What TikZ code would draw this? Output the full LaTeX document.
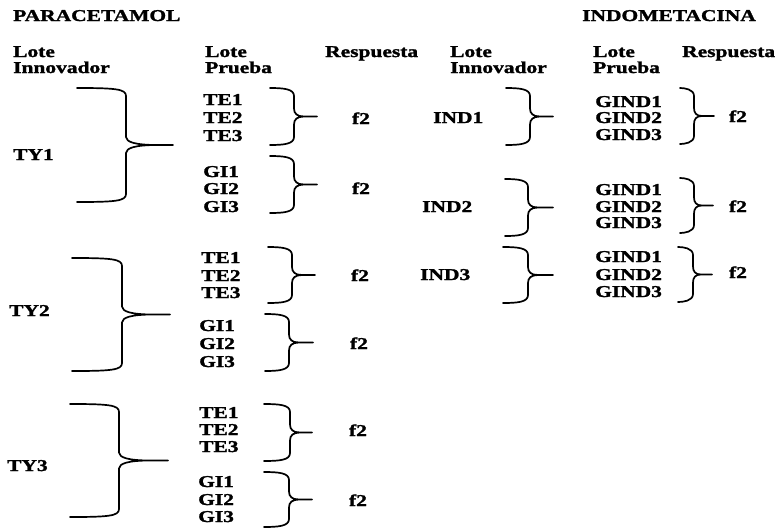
\documentclass[tikz,border=0pt]{standalone}
\usepackage{fontspec}
\setmainfont{Liberation Serif}[FakeStretch=1.3, BoldFeatures={FakeBold=1.6}]
\newcommand{\Brc}[6]{%
  \draw[bracestyle] (#1,#4) .. controls ({#2-10},{#4}) and (#2,{#4+1}) .. (#2,{#4+8})
    -- (#2,{(#4+#5)/2-8}) .. controls (#2,{(#4+#5)/2-3}) and ({#2+0.3*#6},{(#4+#5)/2}) .. ({#2+#6},{(#4+#5)/2})
    -- (#3,{(#4+#5)/2})
    ({#2+#6},{(#4+#5)/2}) .. controls ({#2+0.3*#6},{(#4+#5)/2}) and (#2,{(#4+#5)/2+3}) .. (#2,{(#4+#5)/2+8})
    -- (#2,{#5-8}) .. controls (#2,{#5-1}) and ({#2-10},{#5}) .. (#1,#5);}
\tikzset{
  bracestyle/.style={line width=1.7pt, line cap=round, line join=round},
  lbl/.style={font=\bfseries\fontsize{16.5}{18}\selectfont, inner sep=0pt, anchor=base west},
  resp/.style={font=\bfseries\fontsize{16.5}{18}\selectfont, inner sep=0pt, anchor=base},
}
\begin{document}
\begin{tikzpicture}[x=1pt,y=-1pt]
\useasboundingbox[fill=white] (0,0) rectangle (777,528);
% headers
\node[lbl] (hpar) at (13,21) {PARACETAMOL};
\node[lbl] (hind) at (582,21) {INDOMETACINA};
\node[lbl] (pl1) at (13,57) {Lote};
\node[lbl] (pl2) at (13,73) {Innovador};
\node[lbl] (pp1) at (205,57) {Lote};
\node[lbl] (pp2) at (205,73) {Prueba};
\node[lbl] (pr) at (325,57) {Respuesta};
\node[lbl] (il1) at (450,57) {Lote};
\node[lbl] (il2) at (450,73) {Innovador};
\node[lbl] (ip1) at (593,57) {Lote};
\node[lbl] (ip2) at (593,73) {Prueba};
\node[lbl] (ir) at (682,57) {Respuesta};
% paracetamol innovator lots
\node[lbl] (ty1) at (13,160) {TY1};
\node[lbl] (ty2) at (9,316) {TY2};
\node[lbl] (ty3) at (7,471) {TY3};
% test lots
\node[lbl] (a1) at (203,105) {TE1};
\node[lbl] (a2) at (203,123) {TE2};
\node[lbl] (a3) at (203,141) {TE3};
\node[lbl] (b1) at (203,177) {GI1};
\node[lbl] (b2) at (203,194) {GI2};
\node[lbl] (b3) at (203,212) {GI3};
\node[lbl] (c1) at (201,263) {TE1};
\node[lbl] (c2) at (201,281) {TE2};
\node[lbl] (c3) at (201,298) {TE3};
\node[lbl] (d1) at (199,331) {GI1};
\node[lbl] (d2) at (199,349) {GI2};
\node[lbl] (d3) at (199,367) {GI3};
\node[lbl] (e1) at (199,418) {TE1};
\node[lbl] (e2) at (199,435) {TE2};
\node[lbl] (e3) at (199,452) {TE3};
\node[lbl] (g1) at (198,487) {GI1};
\node[lbl] (g2) at (198,505) {GI2};
\node[lbl] (g3) at (198,522) {GI3};
% responses paracetamol
\node[resp] (fa) at (361,124) {f2};
\node[resp] (fb) at (361,194) {f2};
\node[resp] (fc) at (360,281) {f2};
\node[resp] (fd) at (359,349) {f2};
\node[resp] (fe) at (358,436) {f2};
\node[resp] (fg) at (358,506) {f2};
% indometacina
\node[lbl] (ind1) at (433,123) {IND1};
\node[lbl] (ind2) at (422,212) {IND2};
\node[lbl] (ind3) at (420,280) {IND3};
\node[lbl] (h1) at (595,107) {GIND1};
\node[lbl] (h2) at (595,123) {GIND2};
\node[lbl] (h3) at (595,140) {GIND3};
\node[lbl] (k1) at (595,195) {GIND1};
\node[lbl] (k2) at (595,212) {GIND2};
\node[lbl] (k3) at (595,228) {GIND3};
\node[lbl] (m1) at (595,262) {GIND1};
\node[lbl] (m2) at (595,280) {GIND2};
\node[lbl] (m3) at (595,297) {GIND3};
\node[resp] (fh) at (738,122) {f2};
\node[resp] (fk) at (738,212) {f2};
\node[resp] (fm) at (738,278) {f2};
% large braces
\Brc{77}{126}{173}{88}{202}{31}
\Brc{72}{122}{170}{258}{371}{31}
\Brc{70}{119}{168}{404}{517}{31}
% small braces paracetamol
\Brc{270}{294}{317}{88}{145}{10}
\Brc{270}{294}{317}{156}{213}{10}
\Brc{268}{292}{315}{247}{303}{10}
\Brc{265}{289}{313}{314}{371}{10}
\Brc{264}{290}{312}{404}{461}{10}
\Brc{264}{289}{312}{472}{527}{10}
% indometacina braces
\Brc{506}{530}{553}{88}{145}{10}
\Brc{505}{528}{553}{179}{236}{10}
\Brc{503}{528}{553}{247}{303}{10}
\Brc{680}{694}{714}{88}{144}{8}
\Brc{680}{694}{713}{178}{233}{8}
\Brc{678}{693}{712}{247}{302}{8}
\end{tikzpicture}
\end{document}
